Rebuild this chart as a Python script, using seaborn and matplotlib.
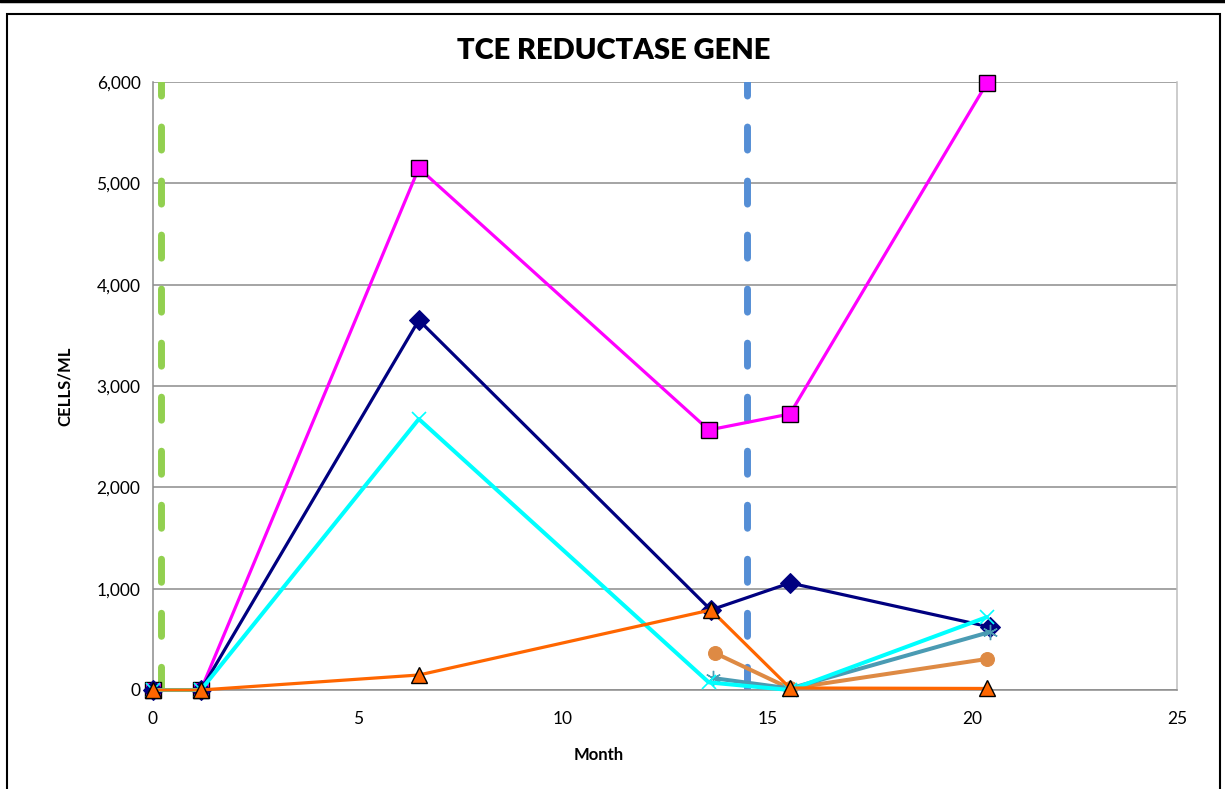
import matplotlib
matplotlib.use("Agg")
import matplotlib.pyplot as plt
import seaborn as sns
import numpy as np
import pandas as pd
from matplotlib.patches import Rectangle
from matplotlib.lines import Line2D
from matplotlib.ticker import FuncFormatter

# ---- data ----
months_a = [0.0, 1.17, 6.49, 13.57, 15.55, 20.36]
magenta_sq = [0, 0, 5150, 2566, 2724, 5990]
months_navy = [0.0, 1.17, 6.49, 13.62, 15.55, 20.43]
navy_dia = [0, 0, 3650, 790, 1056, 622]
months_cyan = [0.0, 1.17, 6.49, 13.57, 15.55, 20.36]
cyan_x = [0, 0, 2674, 75, 0, 720]
months_orange = [0.0, 1.17, 6.49, 13.62, 15.55, 20.36]
orange_tri = [0, 0, 148, 790, 20, 15]
months_teal = [13.67, 15.55, 20.43]
teal_star = [118, 15, 572]
months_brown = [13.72, 15.55, 20.36]
brown_circ = [365, 15, 306]
green_line_x = [0.2, 0.2]
blue_line_x = [14.5, 14.5]
vline_y = [6000, 0]

x_ticks = [0, 5, 10, 15, 20, 25]
y_ticks = [0, 1000, 2000, 3000, 4000, 5000, 6000]

sns.set_theme(style="white")
plt.rcParams['font.family'] = ['Lato', 'DejaVu Sans']
plt.rcParams['text.color'] = 'black'

fig = plt.figure(figsize=(12.25, 7.89), dpi=100)
W, H = 1225, 789
ax = fig.add_axes([153 / W, 1 - 690 / H, (1177 - 153) / W, (690 - 82) / H])

# outer frame
fig.add_artist(Rectangle((7 / W, -0.05), (1220 - 7) / W, 1.05 - 14 / H,
                         transform=fig.transFigure, fill=False, edgecolor='black', lw=1.5))
fig.add_artist(Line2D([0, 1], [1 - 1 / H, 1 - 1 / H], transform=fig.transFigure,
                      color='black', lw=2.5))

# vertical dashed reference lines (drawn from top down)
for xs, col in [(green_line_x, '#92D050'), (blue_line_x, '#558ED5')]:
    ax.plot(xs, vline_y, color=col, lw=5.0, linestyle=(1.37, (3.32, 4.46)),
            dash_capstyle='round', zorder=2)

lw = 2.3
common = dict(ax=ax, sort=False, clip_on=False)
sns.lineplot(x=months_a, y=magenta_sq, color='#FF00FF', lw=lw,
             marker='s', markersize=11, markerfacecolor='#FF00FF', markeredgecolor='black',
             markeredgewidth=1.0, zorder=3, **common)
sns.lineplot(x=months_navy, y=navy_dia, color='#000080', lw=lw,
             marker='D', markersize=10, markerfacecolor='#000080', markeredgecolor='#000080',
             zorder=4, **common)
sns.lineplot(x=months_brown, y=brown_circ, color='#DE8A44', lw=lw + 0.6,
             marker='o', markersize=10, markerfacecolor='#DE8A44', markeredgecolor='#DE8A44',
             zorder=6, **common)
sns.lineplot(x=months_teal, y=teal_star, color='#4A9BB3', lw=lw + 0.6,
             marker=(6, 2, 0), markersize=11, markeredgecolor='#4A9BB3', markeredgewidth=1.0,
             zorder=7, **common)
sns.lineplot(x=months_cyan, y=cyan_x, color='#00FFFF', lw=lw + 0.6,
             marker='x', markersize=10, markeredgecolor='#00FFFF', markeredgewidth=1.2,
             zorder=8, **common)
sns.lineplot(x=months_orange, y=orange_tri, color='#FF6600', lw=lw,
             marker='^', markersize=12, markerfacecolor='#FF6600', markeredgecolor='black',
             markeredgewidth=1.0, zorder=9, **common)

ax.set_xlim(0, 25)
ax.set_ylim(0, 6000)
ax.set_xticks(x_ticks)
ax.set_yticks(y_ticks)
ax.yaxis.set_major_formatter(FuncFormatter(lambda v, p: f"{int(v):,}"))
ax.grid(axis='y', color='#8C8C8C', lw=1.1)
ax.set_axisbelow(True)
for side in ['left', 'bottom', 'right']:
    ax.spines[side].set_color('#8C8C8C')
    ax.spines[side].set_linewidth(1.1)
ax.spines['right'].set_color('#BFBFBF')
ax.spines['top'].set_visible(False)
ax.tick_params(axis='both', which='major', direction='out', length=5, width=1,
               color='#8C8C8C', labelsize=12.5, labelcolor='black', pad=4)
ax.tick_params(axis='x', pad=10)

ax.set_xlabel('')
ax.set_ylabel('')
fig.text(599 / W, 1 - 755 / H, 'Month', fontsize=12, fontweight='bold',
         ha='center', va='center', color='black')
fig.text(65 / W, 1 - 386 / H, 'CELLS/ML', fontsize=12, fontweight='bold',
         ha='center', va='center', rotation=90, color='black')
fig.text(614 / W, 1 - 51 / H, 'TCE REDUCTASE GENE', fontsize=21, fontweight='heavy',
         ha='center', va='center', color='black')

fig.savefig('out.png', dpi=100)
